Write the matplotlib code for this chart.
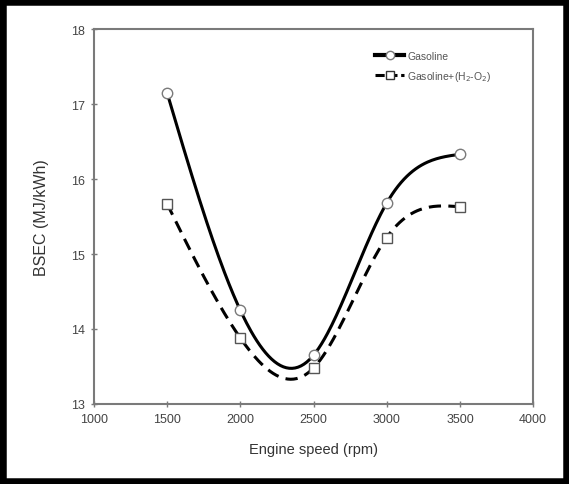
import numpy as np
import matplotlib.pyplot as plt
from matplotlib.patches import Rectangle

speed = [1500, 2000, 2500, 3000, 3500]
bsec_gasoline = [17.15, 14.25, 13.65, 15.68, 16.33]
bsec_hho = [15.67, 13.88, 13.48, 15.22, 15.63]

x_ticks = [1000, 1500, 2000, 2500, 3000, 3500, 4000]
y_ticks = [13, 14, 15, 16, 17, 18]


def natural_spline(x, y, n=200):
    # natural cubic spline, only used to draw the smooth line
    x = np.asarray(x, float)
    y = np.asarray(y, float)
    k = len(x)
    h = np.diff(x)
    A = np.zeros((k, k))
    r = np.zeros(k)
    A[0, 0] = A[-1, -1] = 1
    for i in range(1, k - 1):
        A[i, i - 1] = h[i - 1]
        A[i, i] = 2 * (h[i - 1] + h[i])
        A[i, i + 1] = h[i]
        r[i] = 3 * ((y[i + 1] - y[i]) / h[i] - (y[i] - y[i - 1]) / h[i - 1])
    c = np.linalg.solve(A, r)
    xs = np.linspace(x[0], x[-1], n)
    idx = np.clip(np.searchsorted(x, xs) - 1, 0, k - 2)
    dx = xs - x[idx]
    b = (y[1:] - y[:-1]) / h - h * (2 * c[:-1] + c[1:]) / 3
    d = (c[1:] - c[:-1]) / (3 * h)
    ys = y[idx] + b[idx] * dx + c[idx] * dx ** 2 + d[idx] * dx ** 3
    return xs, ys


plt.rcParams['font.family'] = ['Liberation Sans', 'DejaVu Sans']

fig = plt.figure(figsize=(5.69, 4.85), dpi=100)
ax = fig.add_axes([0.165, 0.165, 0.772, 0.773])

grey = '#7a7a7a'
xs, ys = natural_spline(speed, bsec_gasoline)
ax.plot(xs, ys, color='black', lw=2.2)
xs2, ys2 = natural_spline(speed, bsec_hho)
ax.plot(xs2, ys2, color='black', lw=2.2, dashes=(4, 2.4))
ax.plot(speed, bsec_gasoline, 'o', ms=7.5, mfc='white', mec=grey, mew=1.0)
ax.plot(speed, bsec_hho, 's', ms=7.5, mfc='white', mec='#555555', mew=1.0)

# legend handles
ax.plot([], [], color='black', lw=3, marker='o', ms=6, mfc='white', mec=grey,
        label='Gasoline')
ax.plot([], [], color='black', lw=2.2, dashes=(3, 1.2), marker='s', ms=6,
        mfc='white', mec='#333333', label='Gasoline+(H$_2$-O$_2$)')
ax.legend(loc='upper left', bbox_to_anchor=(0.64, 0.942), frameon=False,
          fontsize=7.5, handlelength=2.8, handletextpad=0.3, labelspacing=0.75,
          borderaxespad=0, borderpad=0, labelcolor='#555555')

ax.set_xlim(1000, 4000)
ax.set_ylim(13, 18)
ax.set_xticks(x_ticks)
ax.set_yticks(y_ticks)
for lab in ax.get_xticklabels() + ax.get_yticklabels():
    lab.set_fontsize(9)
    lab.set_color('#444444')
ax.tick_params(direction='inout', length=5, width=1, color=grey, pad=4)
ax.tick_params(top=False, right=False)
for s in ax.spines.values():
    s.set_color(grey)
    s.set_linewidth(1.5)

ax.set_xlabel('Engine speed (rpm)', fontsize=10.5, color='#333333', labelpad=12)
ax.set_ylabel('BSEC (MJ/kWh)', fontsize=11.5, color='#333333', labelpad=16)

fig.add_artist(Rectangle((0, 0), 1, 1, transform=fig.transFigure, fill=False,
                         lw=9, ec='black'))

fig.savefig('out.png', dpi=100)
